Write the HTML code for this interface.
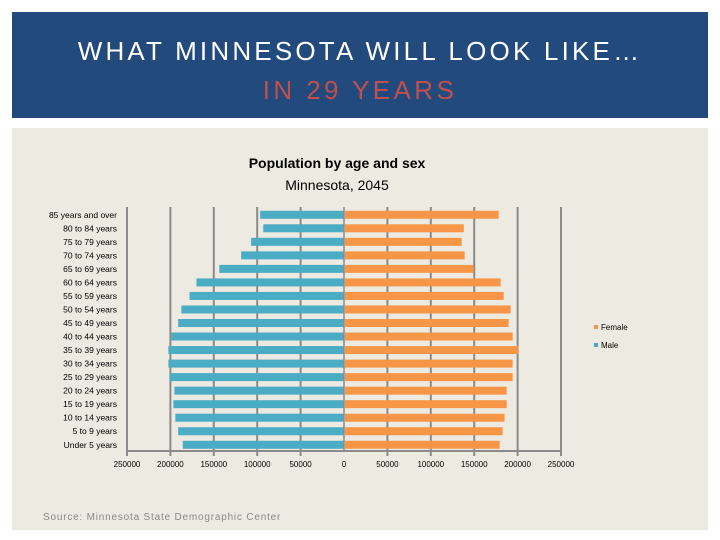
<!DOCTYPE html>
<html><head><meta charset="utf-8"><style>
body{margin:0;width:720px;height:540px;background:#fff;position:relative;overflow:hidden;font-family:"Liberation Sans",sans-serif}
#hdr{position:absolute;left:12px;top:12px;width:696px;height:106px;background:#224a7c}
.t1{position:absolute;left:0;width:696px;text-align:center;color:#fff;font-size:26px;letter-spacing:3.2px;top:24px}
.t2{position:absolute;left:0;width:696px;text-align:center;color:#c0504d;font-size:26px;letter-spacing:3.4px;top:63px}
#panel{position:absolute;left:12px;top:128px;width:696px;height:402px;background:#edeae1}
</style></head><body>
<div id="hdr">
<div class="t1">WHAT MINNESOTA WILL LOOK LIKE…</div>
<div class="t2">IN 29 YEARS</div>
</div>
<div id="panel"></div>
<svg id="chart" width="720" height="540" style="position:absolute;left:0;top:0"></svg>
<script>
const categories=["85 years and over","80 to 84 years","75 to 79 years","70 to 74 years","65 to 69 years","60 to 64 years","55 to 59 years","50 to 54 years","45 to 49 years","40 to 44 years","35 to 39 years","30 to 34 years","25 to 29 years","20 to 24 years","15 to 19 years","10 to 14 years","5 to 9 years","Under 5 years"];
const male=[96600,93000,107000,118500,143700,170000,178000,187400,191000,199000,202300,202300,200800,195400,196600,194300,191000,185800];
const female=[178200,138000,135600,139000,149400,180500,184000,192000,189700,194300,200800,194300,194300,187400,187400,185000,182800,179300];
const ticks=[-250000,-200000,-150000,-100000,-50000,0,50000,100000,150000,200000,250000];
const tickLabels=["250000","200000","150000","100000","50000","0","50000","100000","150000","200000","250000"];
const NS="http://www.w3.org/2000/svg";
const svg=document.getElementById('chart');
const x0=344,scale=217/250000,top0=208,rowH=13.53,bot=451;
const X=v=>x0+v*scale;
const Y=i=>top0+i*rowH+rowH/2;
function mk(tag,a){const e=document.createElementNS(NS,tag);for(const k in a)e.setAttribute(k,a[k]);svg.appendChild(e);return e;}
let t=mk('text',{x:337,y:168,'text-anchor':'middle','font-size':14,'font-weight':'bold',fill:'#000'});t.textContent="Population by age and sex";


t=mk('text',{x:337,y:190,'text-anchor':'middle','font-size':14,fill:'#000'});t.textContent="Minnesota, 2045";


ticks.forEach((v,i)=>{
 if(v!==0){const g=mk('line',{x1:X(v),x2:X(v),y1:top0-1,y2:bot+5,stroke:'#8a8a8a','stroke-width':2});
 
 }
 const l=mk('text',{x:X(v),y:467,'text-anchor':'middle','font-size':8,fill:'#000'});l.textContent=tickLabels[i];
 
 
});
const ax=mk('line',{x1:X(-250000),x2:X(250000),y1:bot,y2:bot,stroke:'#8a8a8a','stroke-width':2});


categories.forEach((c,i)=>{
 const y=Y(i);
 let r=mk('rect',{x:X(-male[i]),y:y-4,width:X(0)-X(-male[i]),height:8,fill:'#4bacc6'});
 
 
 r=mk('rect',{x:X(0)+1,y:y-4,width:X(female[i])-X(0)-1,height:8,fill:'#f79646'});
 
 
 const l=mk('text',{x:117,y:y+3,'text-anchor':'end','font-size':8.5,fill:'#000'});l.textContent=c;
 
 
});
const za=mk('line',{x1:x0,x2:x0,y1:top0-1,y2:bot,stroke:'#8a8a8a','stroke-width':1.5});


[["Female","#f79646",328],["Male","#4bacc6",346]].forEach(([n,c,y])=>{
 const s=mk('rect',{x:594,y:y-3,width:4,height:4,fill:c});
 
 
 const l=mk('text',{x:601,y:y+2,'font-size':8,fill:'#000'});l.textContent=n;
 
 
});
t=mk('text',{x:43,y:520,'font-size':10,fill:'#888','letter-spacing':0.8});t.textContent="Source: Minnesota State Demographic Center";


</script>
</body></html>
